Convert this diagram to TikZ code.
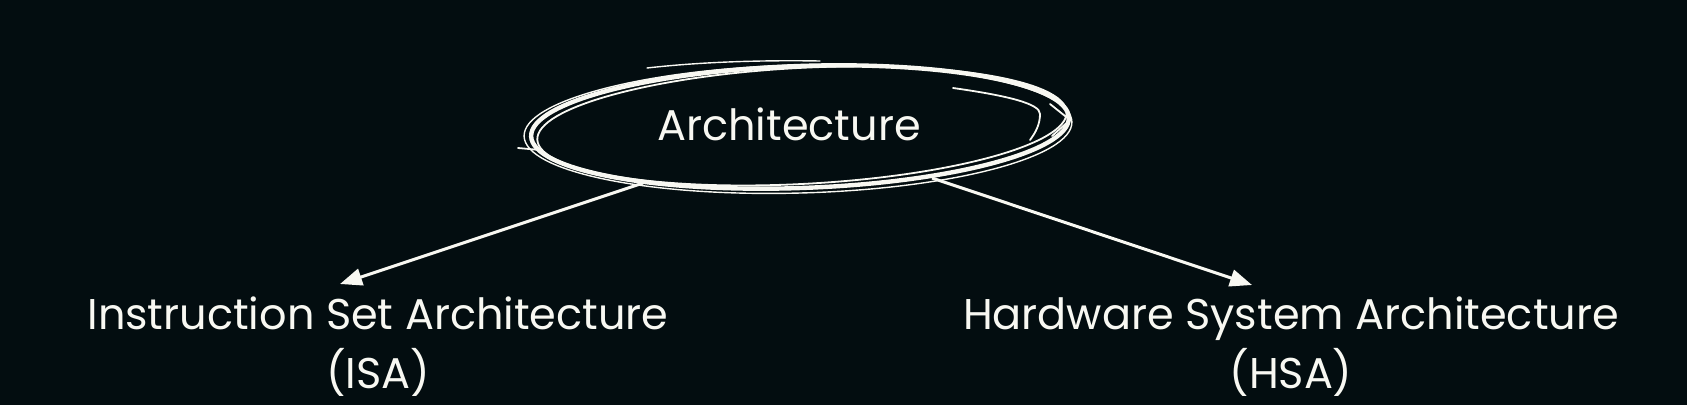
\documentclass[tikz,border=0pt]{standalone}
\usepackage{fontspec}
\setmainfont{Poppins}
\usetikzlibrary{arrows.meta,calc}
\definecolor{bg}{RGB}{3,13,16}
\definecolor{fg}{RGB}{248,248,242}
\begin{document}
\begin{tikzpicture}[x=1pt,y=-1pt,
  lbl/.style={text=fg,font=\fontsize{43}{59}\selectfont,align=center,inner sep=0pt},
  sketch/.style={draw=fg,line cap=round,line join=round},
  conn/.style={draw=fg,line width=3pt,-{Triangle[length=22pt,width=17pt]}}]
\fill[bg] (0,0) rectangle (1687,405);
\useasboundingbox (0,0) rectangle (1687,405);
\coordinate (ec) at (800,127);
\node[lbl,anchor=base] (arch) at (789,140) {Architecture};
% sketchy outline of the ellipse
\draw[sketch,line width=4.4pt,rotate around={2:(ec)}] (ec) ellipse [x radius=269pt,y radius=61pt];
\draw[sketch,line width=1.8pt,rotate around={3:(ec)}] ($(ec)+(2,-1)$) ellipse [x radius=265pt,y radius=58pt];
\draw[sketch,line width=1.4pt,rotate around={1.5:(ec)}] ($(ec)+(-2,2)$) ellipse [x radius=274pt,y radius=64pt];
\draw[sketch,line width=1.8pt] (953,88) .. controls (1010,96) and (1040,104) .. (1040,114) .. controls (1040,124) and (1036,132) .. (1030,140);
\draw[sketch,line width=1.4pt] (647,68) .. controls (700,62) and (760,60) .. (820,61);
\draw[sketch,line width=1.8pt] (518,148) -- (540,150);
\draw[sketch,line width=1.8pt] (1050,104) -- (1070,120) -- (1052,136);
\node[lbl,anchor=north] (isa) at (378,297) {Instruction Set Architecture\\(ISA)};
\node[lbl,anchor=north] (hsa) at (1291,297) {Hardware System Architecture\\(HSA)};
\coordinate (s1) at (643,183);
\coordinate (e1) at (340,284);
\coordinate (s2) at (932,178);
\coordinate (e2) at (1252,285);
\draw[conn] (s1) -- (e1);
\draw[conn] (s2) -- (e2);
\end{tikzpicture}
\end{document}
